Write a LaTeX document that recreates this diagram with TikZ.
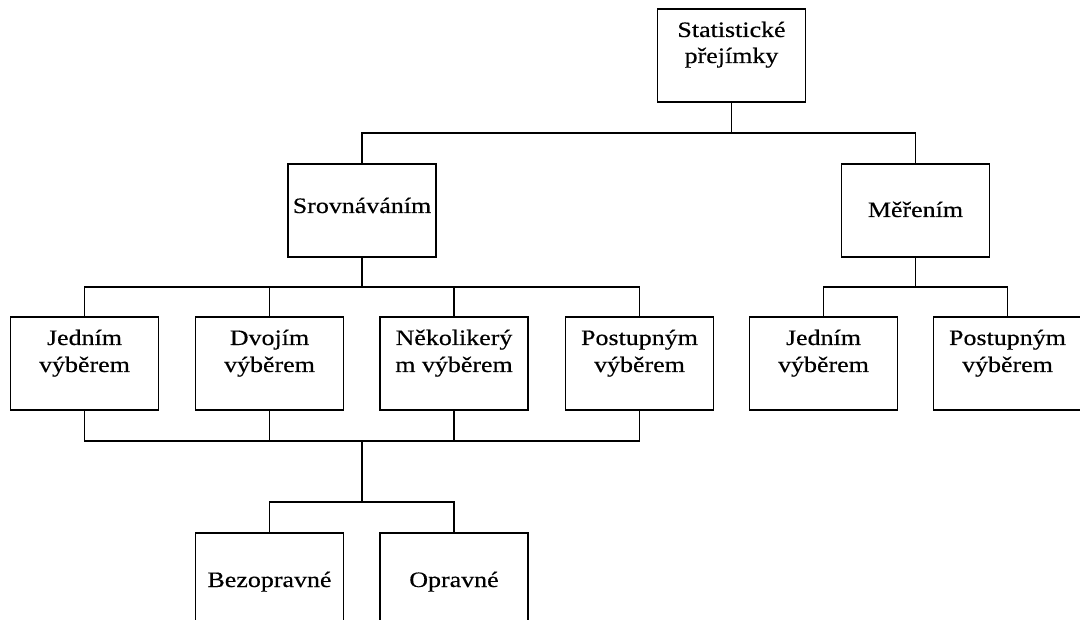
\documentclass[tikz,border=0pt]{standalone}
\usepackage{fontspec}
\setmainfont[FakeStretch=1.18,FakeBold=0.4]{Liberation Serif}
\begin{document}
\begin{tikzpicture}[x=1pt,y=-1pt,
  box/.style={draw=black,line width=1.4pt,rectangle,minimum width=148pt,minimum height=93pt,inner sep=0pt,fill=white},
  txt/.style={anchor=base,inner sep=0pt,font=\fontsize{22}{26}\selectfont,text=black},
  conn/.style={draw=black,line width=1.4pt}]
\useasboundingbox (0,0) rectangle (1080,620);
\clip (0,0) rectangle (1080,620);
\fill[white] (0,0) rectangle (1080,620);
% boxes
\node[box] (stat) at (731.5,55.5) {};
\node[box] (srov) at (362,210.5) {};
\node[box] (mer) at (915.5,210.5) {};
\node[box] (j1) at (84.5,363.5) {};
\node[box] (dv) at (269.5,363.5) {};
\node[box] (nk) at (454,363.5) {};
\node[box] (p1) at (639.5,363.5) {};
\node[box] (j2) at (823.5,363.5) {};
\node[box] (p2) at (1007.5,363.5) {};
\node[box] (bez) at (269.5,579.5) {};
\node[box] (opr) at (454,579.5) {};
% texts
\node[txt] (t1a) at (731.5,37) {Statistické};
\node[txt] (t1b) at (731.5,63) {přejímky};
\node[txt] (t2) at (362,213) {Srovnáváním};
\node[txt] (t3) at (915.5,217) {Měřením};
\node[txt] (t4a) at (84.5,345) {Jedním};
\node[txt] (t4b) at (84.5,372) {výběrem};
\node[txt] (t5a) at (269.5,345) {Dvojím};
\node[txt] (t5b) at (269.5,372) {výběrem};
\node[txt] (t6a) at (454,345) {Několikerý};
\node[txt] (t6b) at (454,372) {m výběrem};
\node[txt] (t7a) at (639.5,345) {Postupným};
\node[txt] (t7b) at (639.5,372) {výběrem};
\node[txt] (t8a) at (823.5,345) {Jedním};
\node[txt] (t8b) at (823.5,372) {výběrem};
\node[txt] (t9a) at (1007.5,345) {Postupným};
\node[txt] (t9b) at (1007.5,372) {výběrem};
\node[txt] (t10) at (269.5,587) {Bezopravné};
\node[txt] (t11) at (454,587) {Opravné};
% junctions
\coordinate (b1) at (731.5,133);
\coordinate (b2) at (362,287);
\coordinate (b3) at (915.5,287);
\coordinate (b4) at (362,441);
\coordinate (b5) at (362,502);
% connectors
\draw[conn] (stat.south) -- (b1);
\draw[conn] (srov.north) |- (b1) -| (mer.north);
\draw[conn] (srov.south) -- (b2);
\draw[conn] (j1.north) |- (b2) -| (p1.north);
\draw[conn] (dv.north) -- (dv.north |- b2);
\draw[conn] (nk.north) -- (nk.north |- b2);
\draw[conn] (mer.south) -- (b3);
\draw[conn] (j2.north) |- (b3) -| (p2.north);
\draw[conn] (j1.south) |- (b4) -| (p1.south);
\draw[conn] (dv.south) -- (dv.south |- b4);
\draw[conn] (nk.south) -- (nk.south |- b4);
\draw[conn] (b4) -- (b5);
\draw[conn] (bez.north) |- (b5) -| (opr.north);
\end{tikzpicture}
\end{document}
